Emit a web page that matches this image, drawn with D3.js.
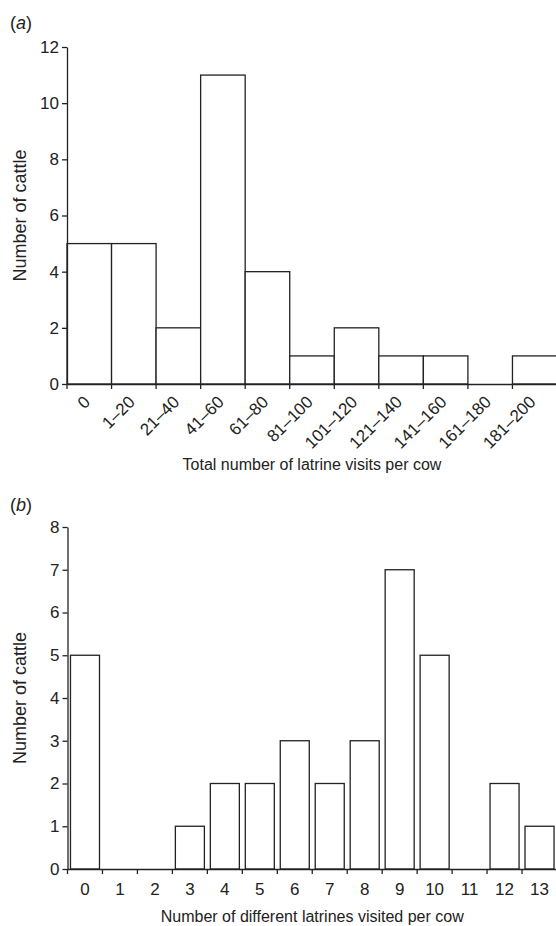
<!DOCTYPE html>
<html>
<head>
<meta charset="utf-8">
<script src="https://cdn.jsdelivr.net/npm/d3@7"></script>
<style>
  body { margin: 0; background: #fff; }
  svg { display: block; font-family: "Liberation Sans", Arial, sans-serif; }
</style>
</head>
<body>
<div id="chart"></div>
<script>
// data
let visit_bins = ["0", "1–20", "21–40", "41–60", "61–80", "81–100", "101–120", "121–140", "141–160", "161–180", "181–200"];
let visit_counts = [5, 5, 2, 11, 4, 1, 2, 1, 1, 0, 1];
let visit_ticks = [0, 2, 4, 6, 8, 10, 12];

let latrine_bins = ["0", "1", "2", "3", "4", "5", "6", "7", "8", "9", "10", "11", "12", "13"];
let latrine_counts = [5, 0, 0, 1, 2, 2, 3, 2, 3, 7, 5, 0, 2, 1];
let latrine_ticks = [0, 1, 2, 3, 4, 5, 6, 7, 8];

let width = 556, height = 926;
let ink = "#222";

let svg = d3.select("#chart")
    .append("svg")
    .attr("width", width)
    .attr("height", height)
;

// shared helper: draws one panel
function panel(opts) {
    let x = d3.scaleBand()
        .domain(opts.bins)
        .range([opts.left, opts.right])
        .padding(0)
    ;
    let y = d3.scaleLinear()
        .domain([0, d3.max(opts.ticks)])
        .range([opts.bottom, opts.top])
    ;

    let g = svg.append("g");

    // bars
    let inset = opts.inset * x.bandwidth();
    g.selectAll("rect")
        .data(opts.counts.map((v, i) => ({ bin: opts.bins[i], v: v })).filter(d => d.v > 0))
        .join("rect")
        .attr("x", d => x(d.bin) + inset)
        .attr("y", d => y(d.v))
        .attr("width", x.bandwidth() - 2 * inset)
        .attr("height", d => y(0) - y(d.v))
        .attr("fill", "#fff")
        .attr("stroke", ink)
        .attr("stroke-width", 1.3)
    ;

    // y axis
    let ya = g.append("g")
        .attr("transform", `translate(${opts.left},0)`)
        .call(d3.axisLeft(y).tickValues(opts.ticks).tickSize(5).tickSizeOuter(0).tickPadding(3))
        .attr("font-family", null)
        .attr("font-size", null)
    ;
    ya.selectAll("text").attr("font-size", 17).attr("fill", ink);
    ya.selectAll("line, path").attr("stroke", ink).attr("stroke-width", 1.3);

    // x axis: line + boundary ticks
    let xa = g.append("g")
        .attr("transform", `translate(0,${opts.bottom})`)
        .call(d3.axisBottom(x).tickSize(0).tickSizeOuter(0).tickFormat(""))
        .attr("font-family", null)
        .attr("font-size", null)
    ;
    xa.select("path").attr("stroke", ink).attr("stroke-width", 1.3);
    xa.selectAll(".bound")
        .data(opts.bins)
        .join("line")
        .attr("class", "bound")
        .attr("x1", d => x(d)).attr("x2", d => x(d))
        .attr("y1", 0).attr("y2", 5)
        .attr("stroke", ink)
        .attr("stroke-width", 1.3)
    ;

    // category labels
    let labels = xa.selectAll(".lab")
        .data(opts.bins)
        .join("text")
        .attr("class", "lab")
        .attr("font-size", 17)
        .attr("fill", ink)
        .text(d => d)
    ;
    if (opts.rotate) {
        labels
            .attr("text-anchor", "end")
            .attr("transform", d => `translate(${x(d) + x.bandwidth() / 2 + 2},19) rotate(-45)`);
    } else {
        labels
            .attr("text-anchor", "middle")
            .attr("x", d => x(d) + x.bandwidth() / 2)
            .attr("y", 26);
    }

    // axis titles
    g.append("text")
        .attr("x", (opts.left + opts.right) / 2)
        .attr("y", opts.xTitleY)
        .attr("text-anchor", "middle")
        .attr("font-size", 16)
        .attr("fill", ink)
        .text(opts.xTitle)
    ;
    g.append("text")
        .attr("transform", `translate(26,${(opts.top + opts.bottom) / 2}) rotate(-90)`)
        .attr("text-anchor", "middle")
        .attr("font-size", 18)
        .attr("fill", ink)
        .text("Number of cattle")
    ;

    // panel letter
    let tag = g.append("text")
        .attr("x", 10)
        .attr("y", opts.tagY)
        .attr("font-size", 18)
        .attr("fill", ink)
    ;
    tag.append("tspan").text("(");
    tag.append("tspan").attr("font-style", "italic").text(opts.tag);
    tag.append("tspan").text(")");
}

panel({
    bins: visit_bins, counts: visit_counts, ticks: visit_ticks,
    left: 67, right: 557, top: 47, bottom: 384,
    inset: 0, rotate: true,
    xTitle: "Total number of latrine visits per cow", xTitleY: 470,
    tag: "a", tagY: 29
});

panel({
    bins: latrine_bins, counts: latrine_counts, ticks: latrine_ticks,
    left: 67.5, right: 557, top: 527, bottom: 869,
    inset: 0.085, rotate: false,
    xTitle: "Number of different latrines visited per cow", xTitleY: 922,
    tag: "b", tagY: 511
});
</script>
</body>
</html>
